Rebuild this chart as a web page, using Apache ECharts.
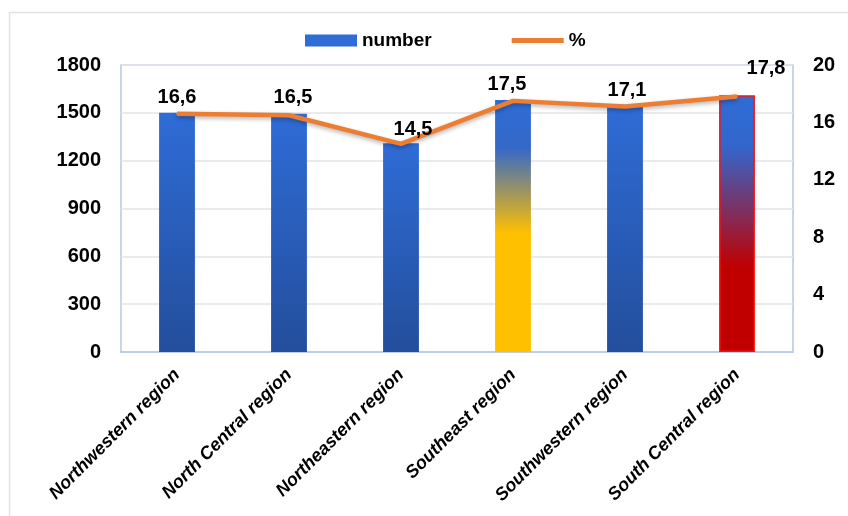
<!DOCTYPE html>
<html>
<head>
<meta charset="utf-8">
<script src="https://cdn.jsdelivr.net/npm/echarts@6/dist/echarts.min.js"></script>
<style>
html,body{margin:0;padding:0;background:#fff;}
#chart{width:848px;height:516px;}
</style>
</head>
<body>
<div id="chart"></div>
<script>
var regions = ['Northwestern region','North Central region','Northeastern region','Southeast region','Southwestern region','South Central region'];
var numbers = [1500, 1495, 1310, 1580, 1540, 1610];
var percents = [16.6, 16.5, 14.5, 17.5, 17.1, 17.8];
var leftTicks = {min: 0, max: 1800, interval: 300};
var rightTicks = {min: 0, max: 20, interval: 4};

// small nudges for the line labels, as in the picture
var labelOffsets = [[0,0],[4,-2],[12,2],[-6,0],[2,0],[29,-12]];

var font = "'Liberation Sans',Arial,sans-serif";

function grad(stops){
	return new echarts.graphic.LinearGradient(0,0,0,1,stops);
}
var blue = grad([{offset:0,color:'#2F6CD6'},{offset:1,color:'#234E9C'}]);
var barStyles = [
	{color: blue},
	{color: blue},
	{color: blue},
	{color: grad([{offset:0,color:'#2F6CD6'},{offset:0.19,color:'#3468C8'},{offset:0.53,color:'#FFC000'},{offset:1,color:'#FFC000'}])},
	{color: blue},
	{color: grad([{offset:0,color:'#2F6CD6'},{offset:0.2,color:'#3366CC'},{offset:0.67,color:'#C00000'},{offset:1,color:'#C00000'}]), borderColor:'#FF1010', borderWidth:1.5}
];

var barData = [];
for (var i=0;i<numbers.length;i++){
	barData.push({value: numbers[i], itemStyle: barStyles[i]});
}
var lineData = [];
for (var j=0;j<percents.length;j++){
	lineData.push({value: percents[j], label: {offset: labelOffsets[j]}});
}

var el = echarts.init(document.getElementById('chart'));
var opt = {
	backgroundColor: '#fff',
	animation: false,
	graphic: [
		{type:'polyline', shape:{points:[[9.5,516],[9.5,12.5],[848,12.5]]}, style:{stroke:'#E2E2E2', fill:null, lineWidth:1.5}, silent:true}
	],
	legend: {
		top: 26,
		left: 300,
		itemGap: 80,
		itemWidth: 52,
		itemHeight: 12,
		textStyle: {fontFamily: font, fontWeight: 'bold', fontSize: 19, color: '#000'},
		data: [
			{name: 'number', icon: 'rect'},
			{name: '%', icon: 'path://M0,0 L52,0 L52,5 L0,5 Z', itemStyle:{color:'#ED7D31', opacity: 1}}
		]
	},
	grid: {
		left: 121, right: 55, top: 65, bottom: 164,
		show: true, borderColor: '#B4C7E7', borderWidth: 1.5
	},
	xAxis: {
		type: 'category',
		data: regions,
		axisTick: {show: false},
		axisLine: {lineStyle: {color: '#B4C7E7', width: 1.5}},
		axisLabel: {
			rotate: 45, interval: 0, margin: 20,
			fontFamily: font, fontWeight: 'bold', fontStyle: 'italic', fontSize: 18, color: '#000'
		}
	},
	yAxis: [
		{
			type: 'value', min: leftTicks.min, max: leftTicks.max, interval: leftTicks.interval,
			axisLine: {show: false}, axisTick: {show: false},
			splitLine: {lineStyle: {color: '#E3E5EA', width: 1.5}},
			axisLabel: {margin: 20, fontFamily: font, fontWeight: 'bold', fontSize: 20, color: '#000',
				formatter: function(v){ return String(v); }}
		},
		{
			type: 'value', min: rightTicks.min, max: rightTicks.max, interval: rightTicks.interval,
			axisLine: {show: false}, axisTick: {show: false}, splitLine: {show: false},
			axisLabel: {margin: 20, fontFamily: font, fontWeight: 'bold', fontSize: 20, color: '#000'}
		}
	],
	series: [
		{
			name: 'number', type: 'bar', data: barData, barWidth: '32%',
			itemStyle: {color: '#2F6CD6'}
		},
		{
			name: '%', type: 'line', yAxisIndex: 1, data: lineData,
			symbol: 'circle', symbolSize: 2, showSymbol: true,
			lineStyle: {color: '#ED7D31', width: 4.5, shadowColor: 'rgba(0,0,0,0.3)', shadowBlur: 4, shadowOffsetY: 2},
			itemStyle: {color: '#ED7D31'},
			label: {
				show: true, position: 'top', distance: 5,
				fontFamily: font, fontWeight: 'bold', fontSize: 20, color: '#000',
				formatter: function(p){ return p.value.toFixed(1).replace('.', ','); }
			},
			z: 5
		}
	]
};
el.setOption(opt);
</script>
</body>
</html>
